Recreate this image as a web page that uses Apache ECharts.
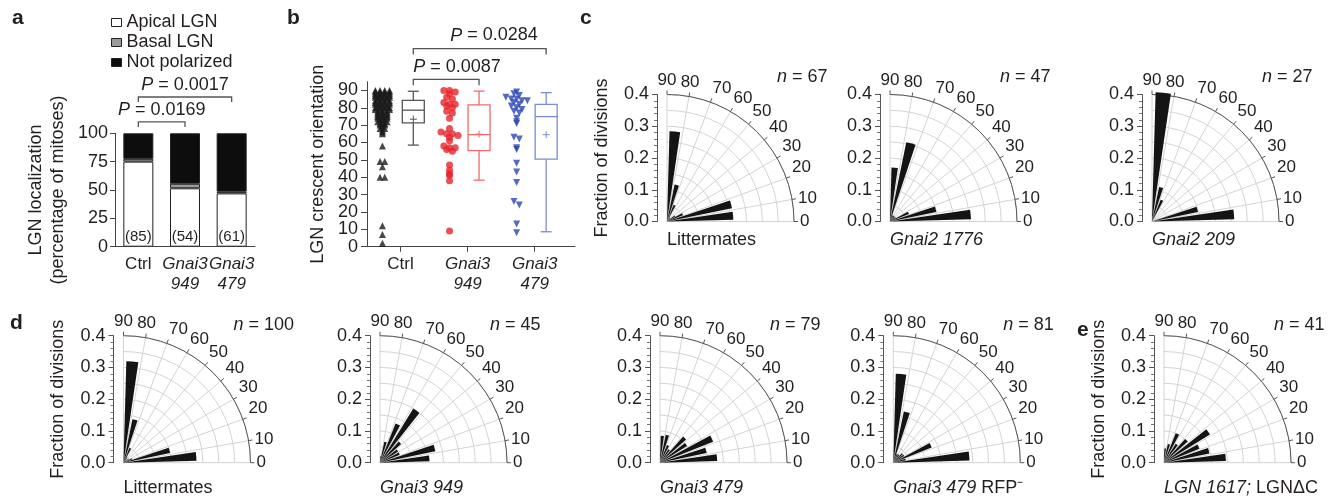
<!DOCTYPE html>
<html>
<head>
<meta charset="utf-8">
<script src="https://cdn.jsdelivr.net/npm/echarts@6/dist/echarts.min.js"></script>
<style>
html, body { margin: 0; padding: 0; background: #fff; }
#fig { width: 1342px; height: 497px; }
</style>
</head>
<body>
<div id="fig"></div>
<script>
// ---- panel a: LGN localization (stacked %)
var aCats = ['Ctrl', 'Gnai3 949', 'Gnai3 479'];
var aApical = [75, 51.5, 47];
var aBasal = [2.5, 4, 1.5];
var aNotPol = [22.5, 44.5, 51.5];
var aCounts = ['(85)', '(54)', '(61)'];

// ---- panel b: crescent orientation (degrees)
var bCats = ['Ctrl', 'Gnai3 949', 'Gnai3 479'];
var bCtrl = [90, 90, 90, 90, 89, 89, 89, 89, 88, 88, 88, 88, 87, 87, 87, 87, 86, 86, 86, 86,
  85, 85, 85, 84, 84, 84, 84, 83, 83, 83, 83, 82, 82, 82, 82, 81, 81, 81, 80, 80, 80, 80,
  79, 79, 79, 79, 78, 78, 78, 77, 77, 77, 76, 76, 76, 75, 75, 75, 74, 74, 74, 73, 73,
  72, 72, 72, 71, 71, 70, 70, 69, 68, 68, 67, 66, 65, 58, 49, 49, 46, 40, 40, 12, 7, 2];
var bG949 = [90, 90, 89, 88, 86, 85, 83, 82, 82, 81, 80, 78, 77, 74, 68, 66, 65, 65, 64, 63,
  61, 58, 57, 57, 56, 55, 47, 44, 42, 41, 38, 9];
var bG479 = [89, 88, 87, 86, 85, 85, 84, 84, 83, 82, 81, 80, 79, 78, 77, 74, 72, 71, 63, 62,
  57, 56, 48, 43, 37, 26, 24, 13, 8];
// [min, Q1, median, Q3, max] and mean
var bBoxes = [[58.5, 71.3, 78.6, 84.3, 89.5], [38.3, 55.3, 64.5, 81.6, 89.6], [8.6, 50.4, 74.9, 82, 88.7]];
var bMeans = [73.4, 64.8, 64.5];
var bYTicks = [0, 10, 20, 30, 40, 50, 60, 70, 80, 90];

// ---- panels c-e: fraction of divisions per 10 degree bin (0-10 ... 80-90)
var binNames = ['0-10', '10-20', '20-30', '30-40', '40-50', '50-60', '60-70', '70-80', '80-90'];
var polarTitles = ['Littermates', '{i|Gnai2 1776}', '{i|Gnai2 209}', 'Littermates', '{i|Gnai3 949}',
  '{i|Gnai3 479}', '{i|Gnai3 479} RFP⁻', '{i|LGN 1617;} LGNΔC'];
var polarN = [67, 47, 27, 100, 45, 79, 81, 41];
var polarFractions = [
  [0.209, 0.209, 0.054, 0.03, 0.015, 0.015, 0.057, 0.119, 0.284],
  [0.255, 0.149, 0.064, 0.021, 0.021, 0.021, 0.021, 0.255, 0.17],
  [0.259, 0.148, 0, 0, 0, 0, 0.074, 0.111, 0.407],
  [0.23, 0.15, 0.03, 0.02, 0.01, 0.02, 0.05, 0.14, 0.32],
  [0.156, 0.178, 0.067, 0.067, 0.089, 0.2, 0.133, 0.067, 0.02],
  [0.18, 0.15, 0.18, 0.1, 0.11, 0.05, 0.06, 0.09, 0.085],
  [0.24, 0.04, 0.13, 0.04, 0.04, 0.03, 0.03, 0.165, 0.28],
  [0.195, 0.146, 0.12, 0.17, 0.1, 0.07, 0.1, 0.06, 0.045]
];

var FONT = '"Liberation Sans", Arial, Helvetica, sans-serif';
var INK = '#231f20';
var AX = '#444';

var polarCenters = [[667, 221.5], [890, 221.5], [1152, 221.5],
  [123.5, 462.7], [380, 462.7], [660, 462.7], [893.3, 462.7], [1164, 462.7]];
var R = 127;

function swarm(vals, xc, bucket, step) {
  var rows = {}, out = [];
  vals.forEach(function (v) {
    var k = Math.round(v / bucket);
    (rows[k] = rows[k] || []).push(v);
  });
  Object.keys(rows).forEach(function (k) {
    var r = rows[k];
    r.forEach(function (v, j) {
      out.push([xc + (j - (r.length - 1) / 2) * step, v]);
    });
  });
  return out;
}

var chart = echarts.init(document.getElementById('fig'));

var italicRich = { i: { fontStyle: 'italic', fontFamily: FONT, fontSize: 17, color: INK, lineHeight: 20 } };
function catLabel(name) {
  if (name === 'Ctrl') return 'Ctrl';
  var p = name.split(' ');
  return '{i|' + p[0] + '}\n{i|' + p[1] + '}';
}

var grids = [
  { left: 115, top: 133.3, width: 140, height: 113.4 },
  { left: 367, top: 81.7, width: 208, height: 165 }
];
var xAxes = [
  {
    type: 'category', gridIndex: 0, data: aCats,
    axisLine: { lineStyle: { color: AX } },
    axisTick: { alignWithLabel: true, length: 5, lineStyle: { color: AX } },
    axisLabel: {
      color: INK, fontFamily: FONT, fontSize: 17, lineHeight: 20, margin: 8, interval: 0,
      rich: italicRich, formatter: catLabel
    }
  },
  {
    type: 'value', gridIndex: 1, min: 0.5, max: 3.6,
    splitLine: { show: false },
    axisLine: { lineStyle: { color: AX } },
    axisTick: { customValues: [1, 2, 3], length: 5, lineStyle: { color: AX } },
    axisLabel: {
      customValues: [1, 2, 3], color: INK, fontFamily: FONT, fontSize: 17, lineHeight: 20, margin: 8,
      rich: italicRich,
      formatter: function (v) { return catLabel(bCats[Math.round(v) - 1]); }
    }
  }
];
var yAxes = [
  {
    type: 'value', gridIndex: 0, min: 0, max: 100, interval: 25,
    name: 'LGN localization\n(percentage of mitoses)', nameLocation: 'middle', nameRotate: 90, nameGap: 46,
    nameTextStyle: { color: INK, fontFamily: FONT, fontSize: 18, lineHeight: 22 },
    splitLine: { show: false },
    axisLine: { show: true, lineStyle: { color: AX } },
    axisTick: { show: true, length: 5, lineStyle: { color: AX } },
    axisLabel: { color: INK, fontFamily: FONT, fontSize: 18, margin: 7 }
  },
  {
    // tick labels are drawn below as text at the axis' own pixel positions
    type: 'value', gridIndex: 1, min: 0, max: 95, interval: 10,
    name: 'LGN crescent orientation', nameLocation: 'middle', nameRotate: 90, nameGap: 40,
    nameTextStyle: { color: INK, fontFamily: FONT, fontSize: 18 },
    splitLine: { show: false },
    axisLine: { show: true, lineStyle: { color: AX } },
    axisTick: { show: true, customValues: bYTicks, length: 6, lineStyle: { color: AX } },
    axisLabel: { show: false }
  }
];

var polars = [], angleAxes = [], radiusAxes = [], series = [];

// panel a bars
var aBarBase = { type: 'bar', stack: 'a', xAxisIndex: 0, yAxisIndex: 0, barWidth: 30 };
series.push(Object.assign({}, aBarBase, {
  name: 'Apical LGN', data: aApical, itemStyle: { color: '#fff', borderColor: '#222', borderWidth: 1 },
  label: {
    show: true, position: 'insideBottom', distance: 2, color: INK, fontFamily: FONT, fontSize: 15,
    formatter: function (p) { return aCounts[p.dataIndex]; }
  }
}));
series.push(Object.assign({}, aBarBase, {
  name: 'Basal LGN', data: aBasal, itemStyle: { color: '#9a9a9a', borderColor: '#222', borderWidth: 1 }
}));
series.push(Object.assign({}, aBarBase, {
  name: 'Not polarized', data: aNotPol, itemStyle: { color: '#0d0d0d', borderColor: '#222', borderWidth: 1 }
}));

// panel b scatter
var bScatterX = [0.73, 1.73, 2.73];
series.push({
  type: 'scatter', xAxisIndex: 1, yAxisIndex: 1, symbol: 'triangle', symbolSize: 7,
  itemStyle: { color: '#1a1a1a' }, data: swarm(bCtrl, bScatterX[0], 1, 0.07), z: 3
});
series.push({
  type: 'scatter', xAxisIndex: 1, yAxisIndex: 1, symbol: 'circle', symbolSize: 7,
  itemStyle: { color: '#e8232a' }, data: swarm(bG949, bScatterX[1], 2.5, 0.085), z: 3
});
series.push({
  type: 'scatter', xAxisIndex: 1, yAxisIndex: 1, symbol: 'triangle', symbolRotate: 180, symbolSize: 7,
  itemStyle: { color: '#2b46b4' }, data: swarm(bG479, bScatterX[2], 2.5, 0.08), z: 3
});

// panel b box plots
var bBoxX = [1.19, 2.17, 3.17];
var bBoxColors = ['#555555', '#f26b6b', '#7b8bd6'];
series.push({
  type: 'custom', xAxisIndex: 1, yAxisIndex: 1, z: 2,
  data: bBoxes.map(function (b, i) { return [bBoxX[i]].concat(b, [bMeans[i]]); }),
  renderItem: function (params, api) {
    var x = api.value(0);
    var c = bBoxColors[params.dataIndex];
    var p = [1, 2, 3, 4, 5, 6].map(function (d) { return api.coord([x, api.value(d)]); });
    var cx = p[0][0], hw = 11, cw = 5.5;
    var ls = { stroke: c, lineWidth: 1.3 };
    return {
      type: 'group', children: [
        { type: 'line', shape: { x1: cx, y1: p[0][1], x2: cx, y2: p[1][1] }, style: ls },
        { type: 'line', shape: { x1: cx, y1: p[3][1], x2: cx, y2: p[4][1] }, style: ls },
        { type: 'line', shape: { x1: cx - cw, y1: p[0][1], x2: cx + cw, y2: p[0][1] }, style: ls },
        { type: 'line', shape: { x1: cx - cw, y1: p[4][1], x2: cx + cw, y2: p[4][1] }, style: ls },
        { type: 'rect', shape: { x: cx - hw, y: p[3][1], width: 2 * hw, height: p[1][1] - p[3][1] },
          style: { stroke: c, lineWidth: 1.3, fill: 'rgba(255,255,255,0)' } },
        { type: 'line', shape: { x1: cx - hw, y1: p[2][1], x2: cx + hw, y2: p[2][1] }, style: ls },
        { type: 'line', shape: { x1: cx - 3.5, y1: p[5][1], x2: cx + 3.5, y2: p[5][1] }, style: { stroke: c, lineWidth: 1 } },
        { type: 'line', shape: { x1: cx, y1: p[5][1] - 3.5, x2: cx, y2: p[5][1] + 3.5 }, style: { stroke: c, lineWidth: 1 } }
      ]
    };
  }
});

// panels c-e polar histograms
polarCenters.forEach(function (c, k) {
  var gi = grids.length;
  grids.push({ left: c[0] - 10, top: c[1] - R, width: 10, height: R });
  xAxes.push({ type: 'value', gridIndex: gi, show: false });
  var ya = {
    type: 'value', gridIndex: gi, min: 0, max: 0.4, interval: 0.1,
    splitLine: { show: false },
    axisLine: { show: true, lineStyle: { color: '#555' } },
    axisTick: { show: true, length: 5, lineStyle: { color: '#555' } },
    minorTick: { show: true, splitNumber: 5, length: 3, lineStyle: { color: '#777' } },
    axisLabel: { color: INK, fontFamily: FONT, fontSize: 18, margin: 8,
      formatter: function (v) { return v.toFixed(1); } }
  };
  if (k === 0 || k === 3 || k === 7) {
    ya.name = 'Fraction of divisions';
    ya.nameLocation = 'middle';
    ya.nameRotate = 90;
    ya.nameGap = 46;
    ya.nameTextStyle = { color: INK, fontFamily: FONT, fontSize: 18 };
  }
  yAxes.push(ya);

  var p0 = polars.length;
  polars.push({ center: [c[0], c[1]], radius: [0, R] });
  polars.push({ center: [c[0], c[1]], radius: [0, R] });
  angleAxes.push({
    type: 'value', polarIndex: p0, min: 0, max: 90, interval: 10,
    startAngle: 0, endAngle: 90, clockwise: false,
    axisLine: { lineStyle: { color: '#555', width: 1 } },
    axisTick: { show: true, length: 4, lineStyle: { color: '#555' } },
    splitLine: { show: true, lineStyle: { color: '#d4d4d4', width: 1 } },
    axisLabel: { color: INK, fontFamily: FONT, fontSize: 17, margin: 6 }
  });
  angleAxes.push({
    type: 'category', polarIndex: p0 + 1, data: binNames,
    startAngle: 0, endAngle: 90, clockwise: false, show: false
  });
  radiusAxes.push({
    type: 'value', polarIndex: p0, min: 0, max: 0.4, interval: 0.05,
    axisLine: { show: false }, axisTick: { show: false }, axisLabel: { show: false },
    splitLine: { show: true, lineStyle: { color: '#d4d4d4', width: 1 } }
  });
  radiusAxes.push({ type: 'value', polarIndex: p0 + 1, min: 0, max: 0.4, show: false });
  series.push({
    type: 'bar', coordinateSystem: 'polar', polarIndex: p0 + 1, data: polarFractions[k],
    barCategoryGap: '32%', clip: false, z: 4, silent: true,
    itemStyle: { color: '#141414' }
  });
});

chart.setOption({
  animation: false,
  textStyle: { fontFamily: FONT },
  legend: {
    orient: 'vertical', left: 106, top: 8, itemWidth: 10, itemHeight: 8, itemGap: 1,
    selectedMode: false, icon: 'rect',
    data: ['Apical LGN', 'Basal LGN', 'Not polarized'],
    itemStyle: { borderColor: '#222', borderWidth: 1 },
    textStyle: { color: INK, fontFamily: FONT, fontSize: 18, lineHeight: 19 }
  },
  grid: grids,
  xAxis: xAxes,
  yAxis: yAxes,
  polar: polars,
  angleAxis: angleAxes,
  radiusAxis: radiusAxes,
  series: series
});

// annotations: panel letters, brackets, n labels, subtitles
function txt(text, x, y, opt) {
  opt = opt || {};
  return {
    type: 'text', x: x, y: y, silent: true,
    style: {
      text: text, fill: INK, fontFamily: FONT, fontSize: opt.size || 18,
      fontWeight: opt.weight || 'normal', fontStyle: opt.style || 'normal',
      textAlign: opt.align || 'left', textVerticalAlign: 'middle',
      rich: {
        i: { fontStyle: 'italic', fontFamily: FONT, fontSize: opt.size || 18, fill: INK }
      }
    }
  };
}
function bracket(gi, x1, x2, yTop, yEnd) {
  var a = chart.convertToPixel({ gridIndex: gi }, [x1, yEnd]);
  var b = chart.convertToPixel({ gridIndex: gi }, [x1, yTop]);
  var c = chart.convertToPixel({ gridIndex: gi }, [x2, yTop]);
  var d = chart.convertToPixel({ gridIndex: gi }, [x2, yEnd]);
  return {
    type: 'polyline', silent: true,
    shape: { points: [a, b, c, d] },
    style: { stroke: '#555', lineWidth: 1.3, fill: null }
  };
}

var g = [];
g.push(txt('a', 12, 18, { weight: 'bold', size: 21 }));
g.push(txt('b', 287, 18, { weight: 'bold', size: 21 }));
g.push(txt('c', 580, 18, { weight: 'bold', size: 21 }));
g.push(txt('d', 10, 323, { weight: 'bold', size: 21 }));
g.push(txt('e', 1077, 330, { weight: 'bold', size: 21 }));

// panel b y tick labels
bYTicks.forEach(function (v) {
  var p = chart.convertToPixel({ gridIndex: 1 }, [0.5, v]);
  g.push(txt(String(v), p[0] - 9, p[1], { align: 'right' }));
});

// panel a brackets
g.push(bracket(0, 0, 1, 110, 105.6));
g.push(bracket(0, 0, 2, 132, 127.6));
var pa1 = chart.convertToPixel({ gridIndex: 0 }, [0, 120.5]);
var pa1b = chart.convertToPixel({ gridIndex: 0 }, [1, 120.5]);
g.push(txt('{i|P} = 0.0169', (pa1[0] + pa1b[0]) / 2, pa1[1], { align: 'center' }));
var pa2 = chart.convertToPixel({ gridIndex: 0 }, [0, 142.6]);
var pa2b = chart.convertToPixel({ gridIndex: 0 }, [2, 142.6]);
g.push(txt('{i|P} = 0.0017', (pa2[0] + pa2b[0]) / 2, pa2[1], { align: 'center' }));

// panel b brackets
g.push(bracket(1, bBoxX[0], bBoxX[1], 96.3, 92.9));
g.push(bracket(1, bBoxX[0], bBoxX[2], 114.1, 110.7));
var pb1 = chart.convertToPixel({ gridIndex: 1 }, [bBoxX[0], 103.2]);
g.push(txt('{i|P} = 0.0087', pb1[0], pb1[1], {}));
var pb2 = chart.convertToPixel({ gridIndex: 1 }, [bBoxX[0] + 0.55, 121.6]);
g.push(txt('{i|P} = 0.0284', pb2[0], pb2[1], {}));

// polar n labels and subtitles
polarCenters.forEach(function (c, k) {
  var row = k < 3 ? 0 : 1;
  g.push(txt('{i|n} = ' + polarN[k], c[0] + 110, row === 0 ? 77 : 325, {}));
  g.push(txt(polarTitles[k], c[0], row === 0 ? 240 : 488, {}));
});

chart.setOption({ graphic: g });

window.addEventListener('resize', function () { chart.resize(); });
</script>
</body>
</html>
